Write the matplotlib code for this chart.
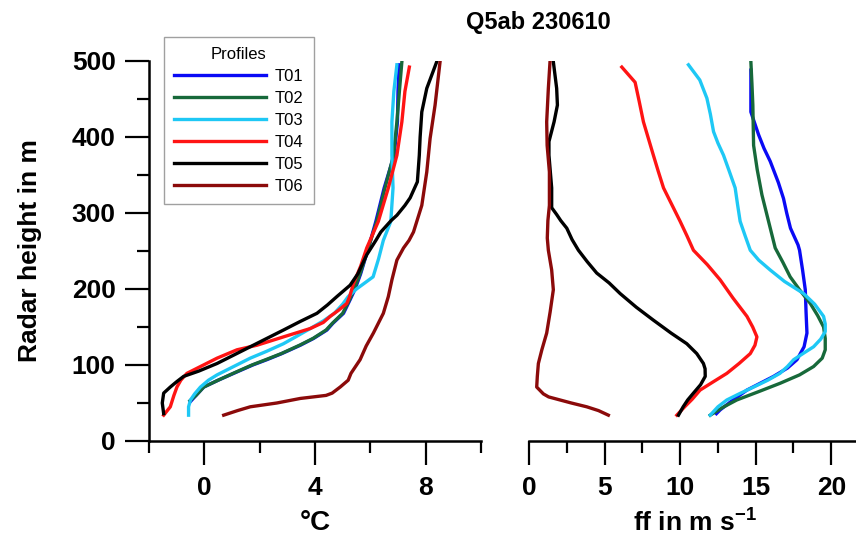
import matplotlib
matplotlib.use('Agg')
import matplotlib.pyplot as plt
from matplotlib.ticker import MultipleLocator, FixedLocator

plt.rcParams['font.family'] = ['Liberation Sans', 'DejaVu Sans']
plt.rcParams['font.weight'] = 'bold'
plt.rcParams['mathtext.fontset'] = 'custom'
plt.rcParams['mathtext.rm'] = 'Liberation Sans:bold'
plt.rcParams['mathtext.default'] = 'rm'

title = 'Q5ab 230610'
names = ['T01', 'T02', 'T03', 'T04', 'T05', 'T06']
colors = ['#0a0af5', '#17693a', '#1ec8f5', '#ff1414', '#000000', '#8b0a0a']

# temperature profiles: height (m) and temperature (degC)
t01_h = [52, 60, 71, 80, 89, 100, 107, 115, 126, 135, 146, 155, 168, 186, 200, 220, 254, 289, 333, 376, 420, 460, 495]
t01_temp = [-0.5, -0.3, -0.02, 0.5, 1.06, 1.75, 2.26, 2.8, 3.47, 3.95, 4.43, 4.65, 5.03, 5.27, 5.45, 5.65, 5.93, 6.2, 6.5, 6.86, 6.98, 7.0, 7.04]

t02_h = [53, 60, 71, 80, 89, 100, 107, 115, 126, 135, 146, 155, 168, 186, 200, 220, 254, 289, 333, 376, 420, 460, 499]
t02_temp = [-0.52, -0.3, -0.02, 0.5, 1.04, 1.72, 2.22, 2.78, 3.44, 3.93, 4.4, 4.63, 5.0, 5.25, 5.42, 5.63, 5.93, 6.23, 6.53, 6.84, 6.96, 7.05, 7.14]

t03_h = [34, 45, 54, 62, 71, 80, 87, 98, 109, 118, 128, 138, 148, 158, 168, 180, 190, 200, 216, 240, 264, 289, 333, 376, 420, 460, 495]
t03_temp = [-0.57, -0.57, -0.5, -0.35, -0.14, 0.15, 0.46, 1.06, 1.66, 2.25, 2.86, 3.35, 3.83, 4.3, 4.7, 5.0, 5.2, 5.5, 6.1, 6.3, 6.47, 6.74, 6.82, 6.78, 6.78, 6.85, 6.96]

t04_h = [34, 45, 60, 71, 80, 89, 98, 109, 120, 126, 137, 148, 156, 164, 172, 181, 190, 207, 230, 254, 264, 289, 333, 376, 420, 460, 492]
t04_temp = [-1.47, -1.23, -1.1, -0.99, -0.85, -0.63, -0.14, 0.46, 1.18, 1.9, 2.86, 3.83, 4.3, 4.55, 4.85, 5.15, 5.25, 5.39, 5.65, 5.87, 5.99, 6.29, 6.65, 6.96, 7.14, 7.25, 7.41]

t05_h = [36, 50, 63, 71, 78, 85, 92, 102, 113, 124, 135, 146, 157, 168, 179, 190, 205, 220, 245, 264, 275, 290, 297, 310, 320, 341, 376, 400, 433, 464, 499]
t05_temp = [-1.47, -1.52, -1.47, -1.23, -1.0, -0.75, -0.2, 0.46, 1.06, 1.66, 2.26, 2.86, 3.45, 4.07, 4.45, 4.79, 5.27, 5.55, 5.87, 6.2, 6.38, 6.75, 6.96, 7.25, 7.44, 7.7, 7.77, 7.8, 7.86, 8.04, 8.4]

t06_h = [34, 40, 45, 50, 56, 60, 63, 71, 80, 89, 107, 125, 142, 168, 190, 212, 238, 254, 264, 275, 310, 354, 398, 442, 499]
t06_temp = [0.7, 1.2, 1.66, 2.62, 3.47, 4.4, 4.62, 4.91, 5.2, 5.3, 5.63, 5.85, 6.11, 6.47, 6.65, 6.78, 6.96, 7.2, 7.4, 7.56, 7.86, 8.04, 8.16, 8.34, 8.52]

# wind speed profiles: height (m) and ff (m/s)
f01_h = [36, 41, 54, 67, 76, 85, 96, 107, 124, 142, 170, 199, 225, 251, 258, 280, 300, 319, 340, 368, 385, 403, 420, 433, 460, 488]
f01_ff = [12.4, 12.65, 13.5, 14.42, 15.3, 16.18, 17.1, 17.73, 18.2, 18.39, 18.33, 18.28, 18.1, 17.9, 17.8, 17.3, 17.05, 16.84, 16.5, 15.96, 15.55, 15.19, 14.9, 14.68, 14.68, 14.68]

f02_h = [34, 44, 54, 65, 76, 87, 98, 109, 120, 135, 150, 165, 181, 199, 216, 235, 254, 289, 324, 357, 389, 420, 442, 470, 499]
f02_ff = [11.99, 12.8, 13.75, 15.2, 16.62, 17.9, 18.83, 19.4, 19.6, 19.6, 19.49, 19.1, 18.61, 17.9, 17.28, 16.8, 16.29, 15.85, 15.41, 15.1, 14.86, 14.83, 14.81, 14.75, 14.68]

f03_h = [34, 45, 54, 62, 71, 80, 89, 98, 107, 116, 124, 134, 144, 154, 164, 180, 194, 210, 225, 238, 251, 270, 289, 311, 333, 355, 376, 392, 407, 430, 451, 475, 495]
f03_ff = [11.99, 12.5, 13.09, 13.9, 14.86, 15.8, 16.6, 17.1, 17.51, 18.2, 18.83, 19.3, 19.6, 19.6, 19.49, 18.9, 18.17, 16.9, 15.96, 15.2, 14.64, 14.3, 13.97, 13.8, 13.64, 13.25, 12.87, 12.5, 12.21, 12.0, 11.77, 11.3, 10.55]

f04_h = [34, 45, 55, 67, 78, 89, 102, 115, 126, 137, 150, 164, 188, 212, 232, 251, 270, 289, 311, 333, 355, 376, 398, 420, 446, 472, 492]
f04_ff = [9.78, 10.3, 10.8, 11.32, 12.2, 13.09, 13.9, 14.64, 14.95, 15.08, 14.8, 14.42, 13.5, 12.65, 11.8, 10.88, 10.45, 10.0, 9.45, 8.9, 8.55, 8.23, 7.9, 7.57, 7.3, 7.02, 6.14]

f05_h = [34, 45, 54, 63, 74, 85, 95, 102, 115, 128, 142, 159, 176, 194, 208, 221, 236, 251, 265, 280, 290, 298, 307, 333, 376, 394, 420, 442, 464, 499]
f05_ff = [9.89, 10.2, 10.5, 10.88, 11.35, 11.66, 11.65, 11.54, 11.1, 10.44, 9.4, 8.23, 7.1, 6.03, 5.3, 4.48, 3.85, 3.27, 2.85, 2.5, 2.1, 1.83, 1.5, 1.5, 1.32, 1.32, 1.66, 1.88, 1.83, 1.61]

f06_h = [34, 40, 45, 50, 54, 58, 62, 71, 85, 102, 120, 142, 170, 199, 225, 251, 267, 290, 310, 354, 389, 420, 464, 499]
f06_ff = [5.25, 4.6, 3.82, 2.8, 2.05, 1.3, 0.95, 0.51, 0.55, 0.62, 0.85, 1.17, 1.4, 1.61, 1.5, 1.28, 1.21, 1.25, 1.35, 1.35, 1.2, 1.17, 1.28, 1.39]

temp_h = [t01_h, t02_h, t03_h, t04_h, t05_h, t06_h]
temp_v = [t01_temp, t02_temp, t03_temp, t04_temp, t05_temp, t06_temp]
ff_h = [f01_h, f02_h, f03_h, f04_h, f05_h, f06_h]
ff_v = [f01_ff, f02_ff, f03_ff, f04_ff, f05_ff, f06_ff]

fig = plt.figure(figsize=(8.56, 5.4), dpi=100)
ax1 = fig.add_axes([149 / 856, 99 / 540, 332 / 856, 380 / 540])
ax2 = fig.add_axes([529 / 856, 99 / 540, 331 / 856, 380 / 540])

for h, v, c, n in zip(temp_h, temp_v, colors, names):
    ax1.plot(v, h, color=c, lw=2.4, label=n)
for h, v, c in zip(ff_h, ff_v, colors):
    ax2.plot(v, h, color=c, lw=2.4)

ax1.set_xlim(-2, 10)
ax1.set_ylim(0, 500)
ax2.set_xlim(0, 21.9)
ax2.set_ylim(0, 500)

# ticks
ax1.xaxis.set_major_locator(FixedLocator([0, 4, 8]))
ax1.xaxis.set_minor_locator(FixedLocator([-2, 2, 6, 10]))
ax1.yaxis.set_major_locator(MultipleLocator(100))
ax1.yaxis.set_minor_locator(MultipleLocator(50))
ax2.xaxis.set_major_locator(MultipleLocator(5))
ax2.xaxis.set_minor_locator(MultipleLocator(2.5))

for ax in (ax1, ax2):
    ax.tick_params(which='major', length=17, width=1.6, labelsize=19, pad=8)
    ax.tick_params(which='minor', length=8.5, width=1.6)
    ax.spines['top'].set_visible(False)
    ax.spines['right'].set_visible(False)
    ax.spines['bottom'].set_linewidth(1.8)
    ax.spines['left'].set_linewidth(1.8)
ax1.tick_params(axis='y', which='major', pad=7)
ax2.spines['left'].set_visible(False)
ax2.tick_params(axis='y', which='both', left=False, labelleft=False)

# labels
ax1.set_ylabel('Radar height in m', fontsize=19, fontweight='bold', va='center')
ax1.yaxis.set_label_coords((30 - 149) / 332, 0.5)
ax1.set_xlabel('°C', fontsize=20, fontweight='bold', va='center')
ax1.xaxis.set_label_coords(0.5, -0.216)
ax2.set_xlabel('ff in m s$^{-1}$', fontsize=19, fontweight='bold', va='center')
ax2.xaxis.set_label_coords(0.5, -0.216)

fig.text(538 / 856, 1 - 22 / 540, title, ha='center', va='center', fontsize=17, fontweight='bold')

leg = ax1.legend(loc='upper left', bbox_to_anchor=(164 / 856, 1 - 37 / 540),
                 bbox_transform=fig.transFigure, borderaxespad=0,
                 title='Profiles', prop={'size': 12, 'weight': 'normal'},
                 title_fontproperties={'size': 12, 'weight': 'normal'},
                 fancybox=False, edgecolor='#a0a0a0', framealpha=1,
                 handlelength=5.5, handletextpad=0.55, labelspacing=0.42, borderpad=0.6)
leg.get_frame().set_linewidth(1.0)

fig.savefig('out.png', dpi=100)
